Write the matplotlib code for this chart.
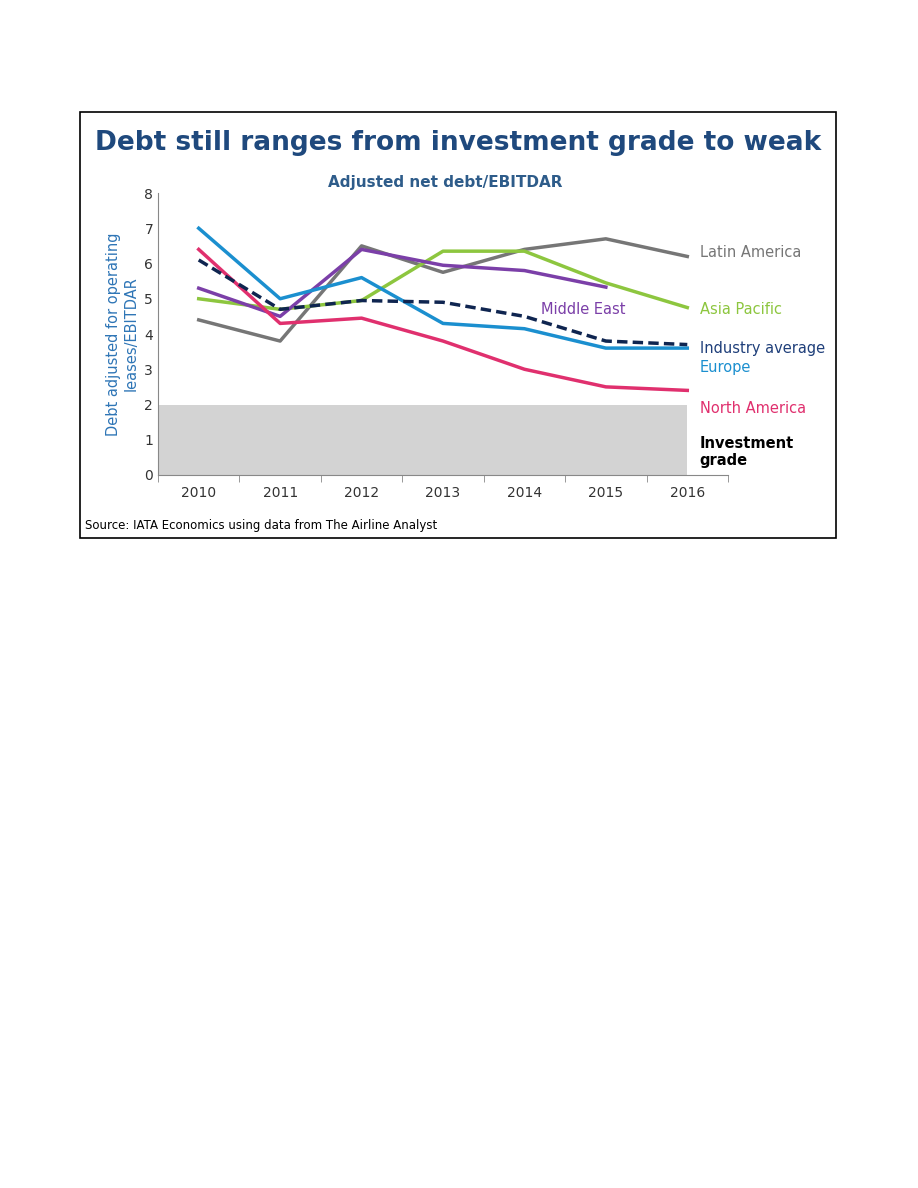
import matplotlib.pyplot as plt
from matplotlib.patches import Rectangle

years = ["2010", "2011", "2012", "2013", "2014", "2015", "2016"]
latin_america = [4.4, 3.8, 6.5, 5.75, 6.4, 6.7, 6.2]
asia_pacific = [5.0, 4.7, 4.95, 6.35, 6.35, 5.45, 4.75]
middle_east = [5.3, 4.5, 6.4, 5.95, 5.8, 5.33]
industry_avg = [6.1, 4.7, 4.95, 4.9, 4.5, 3.8, 3.7]
europe = [7.0, 5.0, 5.6, 4.3, 4.15, 3.6, 3.6]
north_america = [6.4, 4.3, 4.45, 3.8, 3.0, 2.5, 2.4]
invest_grade = 2.0

W, H = 918, 1188
fig = plt.figure(figsize=(W / 100, H / 100), dpi=100)
fig.patches.append(Rectangle((80 / W, 1 - 538 / H), 756 / W, 426 / H, transform=fig.transFigure,
                             fill=False, edgecolor="black", linewidth=1.2))
fig.text(95 / W, 1 - 143 / H, "Debt still ranges from investment grade to weak", fontsize=19,
         fontweight="bold", color="#1F497D", va="center")
fig.text(445 / W, 1 - 182 / H, "Adjusted net debt/EBITDAR", fontsize=11, fontweight="bold",
         color="#2E5C8A", ha="center", va="center")
fig.text(85 / W, 1 - 526 / H, "Source: IATA Economics using data from The Airline Analyst", fontsize=8.5,
         va="center")

ax = fig.add_axes([158 / W, 1 - 475 / H, 570 / W, 282 / H])
x = list(range(len(years)))
ax.add_patch(Rectangle((-0.5, 0), 6.5, invest_grade, color="#D3D3D3", zorder=0, linewidth=0))
lw = 2.5
ax.plot(x, latin_america, color="#767676", lw=lw)
ax.plot(x, asia_pacific, color="#8DC63F", lw=lw)
ax.plot(x[:len(middle_east)], middle_east, color="#7B3FA8", lw=lw)
ax.plot(x, europe, color="#1B8FCF", lw=lw)
ax.plot(x, north_america, color="#E0306E", lw=lw)
ax.plot(x, industry_avg, color="#0F2550", lw=lw, ls=(0, (3, 1.5)))

ax.set_xlim(-0.5, 6.5)
ax.set_ylim(0, 8)
ax.set_xticks(x)
ax.set_xticklabels(years, color="#333333", fontsize=10)
ax.set_xticks([i - 0.5 for i in range(8)], minor=True)
ax.tick_params(axis="x", which="major", length=0, pad=8)
ax.tick_params(axis="x", which="minor", length=5, color="#888888")
ax.tick_params(axis="y", length=0, labelsize=10, labelcolor="#333333")
for s in ["top", "right"]:
    ax.spines[s].set_visible(False)
ax.spines["bottom"].set_color("#888888")
ax.spines["left"].set_color("#888888")
ax.set_ylabel("Debt adjusted for operating\nleases/EBITDAR", color="#2E75B6", fontsize=10.5)

labels = [("Latin America", 6.3, "#767676"), ("Asia Pacific", 4.7, "#8DC63F"),
          ("Industry average", 3.6, "#1F3F7A"), ("Europe", 3.05, "#1B8FCF"),
          ("North America", 1.9, "#E0306E")]
for txt, yv, c in labels:
    ax.text(6.15, yv, txt, color=c, fontsize=10.5, va="center")
ax.text(6.15, 0.65, "Investment\ngrade", color="black", fontsize=10.5, fontweight="bold", va="center")
ax.text(4.2, 4.7, "Middle East", color="#7B3FA8", fontsize=10.5, va="center")
ax.set_clip_on(False)
for t in ax.texts:
    t.set_clip_on(False)

fig.savefig("out.png", dpi=100)
